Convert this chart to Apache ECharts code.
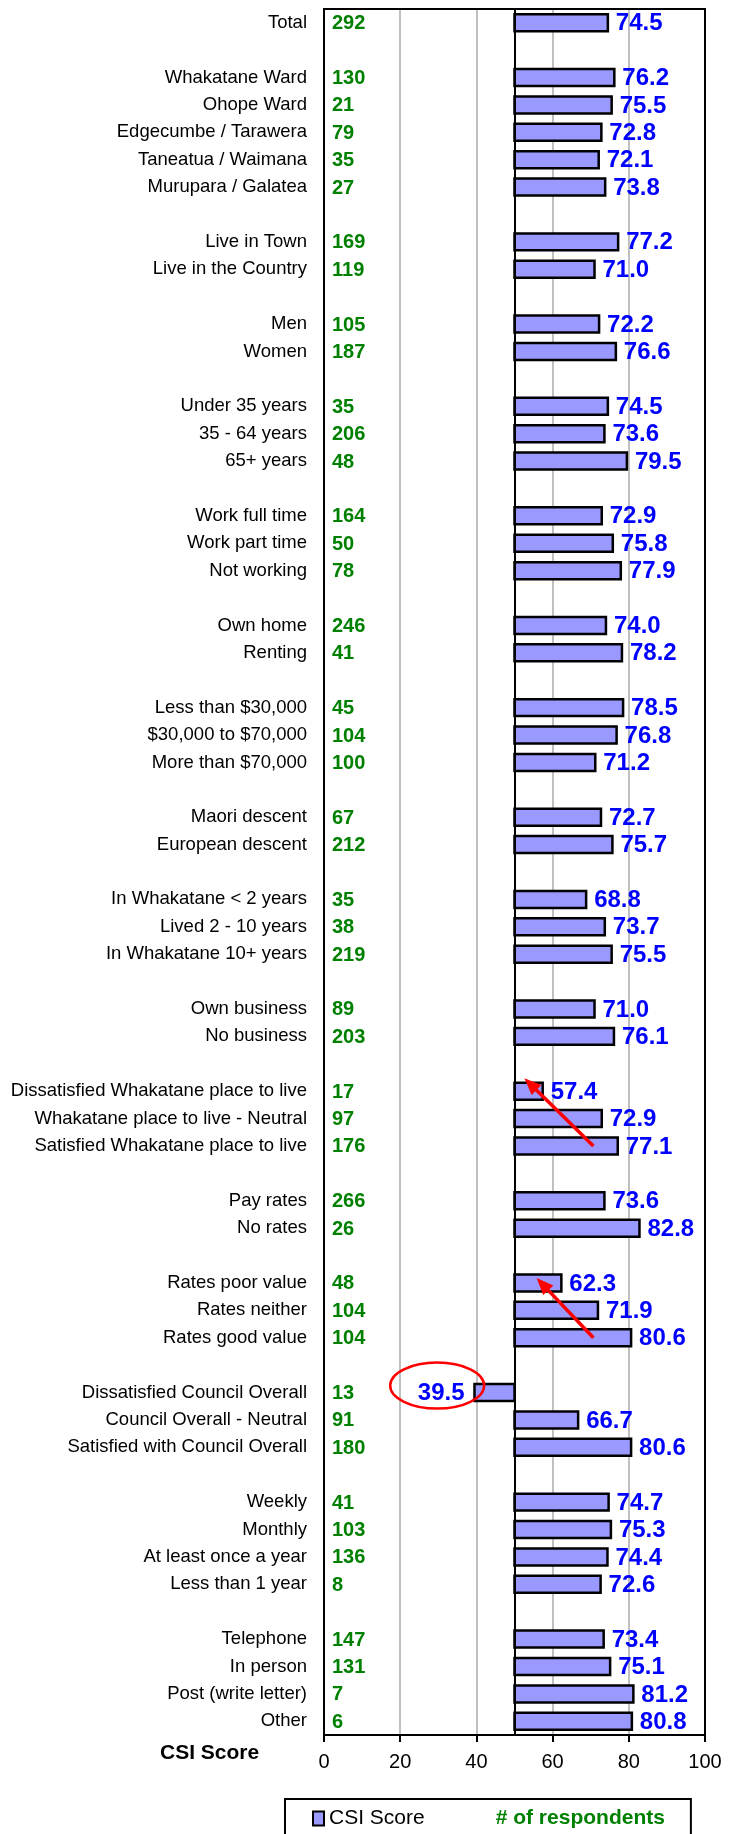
<!DOCTYPE html>
<html>
<head>
<meta charset="utf-8">
<script src="https://cdn.jsdelivr.net/npm/echarts@6/dist/echarts.min.js"></script>
<style>
  html, body { margin: 0; padding: 0; background: #fff; }
  #chart { width: 731px; height: 1834px; }
</style>
</head>
<body>
<div id="chart"></div>
<script>
// Row labels, top to bottom ('' rows are spacers between groups)
const categories = [
  "Total", "",
  "Whakatane Ward", "Ohope Ward", "Edgecumbe / Tarawera", "Taneatua / Waimana", "Murupara / Galatea", "",
  "Live in Town", "Live in the Country", "",
  "Men", "Women", "",
  "Under 35 years", "35 - 64 years", "65+ years", "",
  "Work full time", "Work part time", "Not working", "",
  "Own home", "Renting", "",
  "Less than $30,000", "$30,000 to $70,000", "More than $70,000", "",
  "Maori descent", "European descent", "",
  "In Whakatane < 2 years", "Lived 2 - 10 years", "In Whakatane 10+ years", "",
  "Own business", "No business", "",
  "Dissatisfied Whakatane place to live", "Whakatane place to live - Neutral", "Satisfied Whakatane place to live", "",
  "Pay rates", "No rates", "",
  "Rates poor value", "Rates neither", "Rates good value", "",
  "Dissatisfied Council Overall", "Council Overall - Neutral", "Satisfied with Council Overall", "",
  "Weekly", "Monthly", "At least once a year", "Less than 1 year", "",
  "Telephone", "In person", "Post (write letter)", "Other"
];

// CSI score for each row
const csiScores = [
  74.5, null,
  76.2, 75.5, 72.8, 72.1, 73.8, null,
  77.2, 71.0, null,
  72.2, 76.6, null,
  74.5, 73.6, 79.5, null,
  72.9, 75.8, 77.9, null,
  74.0, 78.2, null,
  78.5, 76.8, 71.2, null,
  72.7, 75.7, null,
  68.8, 73.7, 75.5, null,
  71.0, 76.1, null,
  57.4, 72.9, 77.1, null,
  73.6, 82.8, null,
  62.3, 71.9, 80.6, null,
  39.5, 66.7, 80.6, null,
  74.7, 75.3, 74.4, 72.6, null,
  73.4, 75.1, 81.2, 80.8
];

// Number of respondents for each row
const respondents = [
  292, null,
  130, 21, 79, 35, 27, null,
  169, 119, null,
  105, 187, null,
  35, 206, 48, null,
  164, 50, 78, null,
  246, 41, null,
  45, 104, 100, null,
  67, 212, null,
  35, 38, 219, null,
  89, 203, null,
  17, 97, 176, null,
  266, 26, null,
  48, 104, 104, null,
  13, 91, 180, null,
  41, 103, 136, 8, null,
  147, 131, 7, 6
];

// Score axis ticks
const scoreMin = 0;
const scoreMax = 100;
const scoreStep = 20;
// Bars grow out of the midpoint of the scale
const baseline = 50;

const FONT = '"Liberation Sans", Arial, Helvetica, sans-serif';

const barData = [];
const countData = [];
csiScores.forEach((v, i) => { if (v != null) barData.push([v, i]); });
respondents.forEach((n, i) => { if (n != null) countData.push([n, i]); });

const chart = echarts.init(document.getElementById('chart'), null, { renderer: 'canvas' });

chart.setOption({
  animation: false,
  backgroundColor: '#ffffff',
  title: {
    text: 'CSI Score',
    left: 160,
    top: 1743,
    padding: 0,
    textStyle: { fontFamily: FONT, fontSize: 21, fontWeight: 'bold', color: '#000' }
  },
  legend: {
    left: 285,
    top: 1799,
    orient: 'horizontal',
    padding: [9, 26, 40, 27],
    itemGap: 55,
    itemWidth: 11,
    itemHeight: 14,
    borderColor: '#000',
    borderWidth: 2,
    selectedMode: false,
    textStyle: { fontFamily: FONT, fontSize: 21, color: '#000' },
    data: [
      { name: 'CSI Score', icon: 'rect',
        itemStyle: { color: '#9999FF', borderColor: '#000', borderWidth: 2 } },
      { name: '# of respondents', icon: 'rect',
        itemStyle: { opacity: 0 },
        textStyle: { color: '#008000', fontWeight: 'bold', fontSize: 21 } }
    ]
  },
  grid: {
    left: 324, right: 26, top: 9, bottom: 99,
    containLabel: false,
    outerBoundsMode: 'none',
    show: true,
    borderColor: '#000',
    borderWidth: 2,
    backgroundColor: 'transparent'
  },
  xAxis: [{
    type: 'value',
    min: scoreMin, max: scoreMax, interval: scoreStep,
    position: 'bottom',
    axisLine: { show: true, lineStyle: { color: '#000', width: 2 } },
    axisTick: { show: true, inside: false, length: 7, lineStyle: { color: '#000', width: 2 } },
    axisLabel: { color: '#000', fontFamily: FONT, fontSize: 20, margin: 17 },
    splitLine: {
      show: true,
      lineStyle: { color: ['#000', '#C0C0C0', '#C0C0C0', '#C0C0C0', '#C0C0C0', '#000'], width: 2 }
    }
  }, {
    type: 'value',
    min: scoreMin, max: scoreMax, interval: scoreStep,
    position: 'top',
    axisLine: { show: true, lineStyle: { color: '#000', width: 2 } },
    axisTick: { show: false },
    axisLabel: { show: false },
    splitLine: { show: false }
  }],
  yAxis: {
    type: 'category',
    data: categories,
    inverse: true,
    boundaryGap: true,
    axisLine: { show: false },
    axisTick: { show: false },
    axisLabel: { interval: 0, color: '#000', fontFamily: FONT, fontSize: 18.5, margin: 17 },
    splitLine: { show: false }
  },
  series: [{
    name: 'CSI Score',
    type: 'custom',
    xAxisIndex: 0,
    yAxisIndex: 0,
    itemStyle: { color: '#9999FF' },
    encode: { x: 0, y: 1 },
    data: barData,
    z: 3,
    renderItem: function (params, api) {
      const v = api.value(0);
      const idx = api.value(1);
      const base = api.coord([baseline, idx]);
      const end = api.coord([v, idx]);
      const band = api.size([0, 1])[1];
      const h = band * 0.62;
      const x0 = Math.min(base[0], end[0]);
      const w = Math.abs(end[0] - base[0]);
      const right = v >= baseline;
      return {
        type: 'group',
        children: [{
          type: 'rect',
          shape: { x: x0, y: base[1] - h / 2, width: w, height: h },
          style: { fill: '#9999FF', stroke: '#000', lineWidth: 2.5 }
        }, {
          type: 'text',
          style: {
            text: v.toFixed(1),
            x: right ? end[0] + 8 : end[0] - 10,
            y: base[1] + 1,
            align: right ? 'left' : 'right',
            verticalAlign: 'middle',
            fill: '#0000FF',
            fontFamily: FONT,
            fontSize: 24,
            fontWeight: 'bold'
          }
        }]
      };
    },
    markLine: {
      silent: true,
      symbol: ['none', 'none'],
      label: { show: false },
      lineStyle: { color: '#000', width: 2, type: 'solid' },
      data: [{ xAxis: baseline }]
    }
  }, {
    name: '# of respondents',
    type: 'custom',
    xAxisIndex: 0,
    yAxisIndex: 0,
    itemStyle: { color: '#008000' },
    encode: { x: 0, y: 1 },
    data: countData,
    z: 3,
    renderItem: function (params, api) {
      const p = api.coord([scoreMin, api.value(1)]);
      return {
        type: 'text',
        style: {
          text: String(api.value(0)),
          x: p[0] + 8,
          y: p[1] + 1,
          align: 'left',
          verticalAlign: 'middle',
          fill: '#008000',
          fontFamily: FONT,
          fontSize: 20,
          fontWeight: 'bold'
        }
      };
    }
  }]
});

// Callout marks: arrows pointing at the low-scoring groups, and a ring round the lowest score.
// Each point is [score, row index, pixel nudge along the row].
const arrows = [
  { from: [70.7, 41, 0], to: [52.6, 39, -13] },
  { from: [70.7, 48, 0], to: [55.8, 46, -5] }
];
const ring = { center: [29.7, 50, -7], rx: 47, ry: 23 };

function toPx(p) {
  const c = chart.convertToPixel({ xAxisIndex: 0, yAxisIndex: 0 }, [p[0], p[1]]);
  return [c[0], c[1] + p[2]];
}

const graphics = [];
arrows.forEach(a => {
  const t = toPx(a.from);
  const h = toPx(a.to);
  const dx = h[0] - t[0], dy = h[1] - t[1];
  const len = Math.sqrt(dx * dx + dy * dy);
  const ux = dx / len, uy = dy / len;
  const headLen = 17, headHalf = 7;
  const bx = h[0] - ux * headLen, by = h[1] - uy * headLen;
  graphics.push({
    type: 'line', z: 10,
    shape: { x1: t[0], y1: t[1], x2: bx + ux * 2, y2: by + uy * 2 },
    style: { stroke: '#FF0000', lineWidth: 3.5 }
  });
  graphics.push({
    type: 'polygon', z: 10,
    shape: { points: [[h[0], h[1]], [bx - uy * headHalf, by + ux * headHalf], [bx + uy * headHalf, by - ux * headHalf]] },
    style: { fill: '#FF0000' }
  });
});
const rc = toPx(ring.center);
graphics.push({
  type: 'ellipse', z: 10,
  shape: { cx: rc[0], cy: rc[1], rx: ring.rx, ry: ring.ry },
  style: { fill: 'none', stroke: '#FF0000', lineWidth: 2.5 }
});

chart.setOption({ graphic: graphics });
</script>
</body>
</html>
